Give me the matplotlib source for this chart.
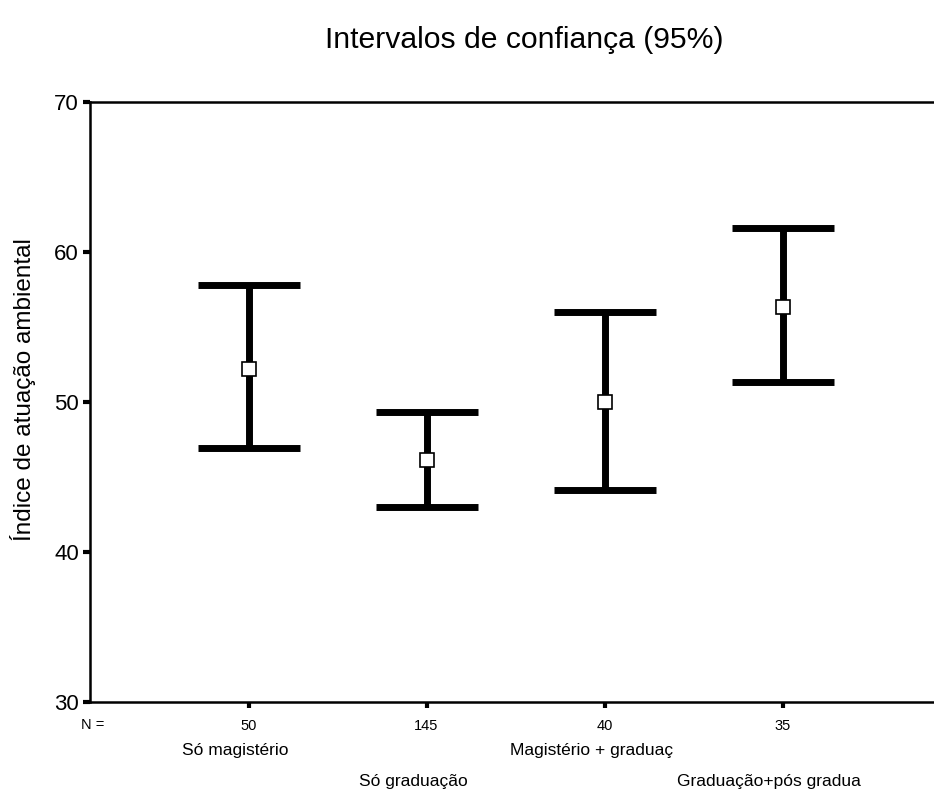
import numpy as np
import matplotlib
matplotlib.use("Agg")
import matplotlib.pyplot as plt
from matplotlib.transforms import blended_transform_factory

plt.rcParams['font.family'] = ['Liberation Sans', 'DejaVu Sans']

groups = ['Só magistério', 'Só graduação', 'Magistério + graduaç', 'Graduação+pós gradua']
n_vals = [50, 145, 40, 35]
means = np.array([52.2, 46.1, 50.0, 56.3])
lower = np.array([46.9, 43.0, 44.1, 51.3])
upper = np.array([57.8, 49.3, 56.0, 61.6])

x = np.arange(1, len(groups) + 1)

fig = plt.figure(figsize=(9.34, 7.93), dpi=100)
ax = fig.add_axes([0.0964, 0.1148, 0.9036, 0.7566])

# intervals
ax.errorbar(x, means, yerr=[means - lower, upper - means], fmt='none',
            ecolor='black', elinewidth=5, capsize=37, capthick=5)
# mean markers
ax.plot(x, means, 's', ms=9.5, mfc='white', mec='black', mew=1.2, zorder=5)

ax.set_xlim(0.11, 4.85)
ax.set_ylim(30, 70)
ax.set_yticks([30, 40, 50, 60, 70])
ax.tick_params(axis='y', labelsize=16, length=5, width=3, pad=3)
ax.set_xticks(x)
ax.set_xticklabels([str(v) for v in n_vals])
ax.tick_params(axis='x', labelsize=10.5, length=4, width=3, pad=8)

for s in ['left', 'bottom', 'top']:
    ax.spines[s].set_linewidth(1.8)
ax.spines['right'].set_visible(False)

ax.set_ylabel('Índice de atuação ambiental', fontsize=17.5)
ax.yaxis.set_label_coords(-0.064, 0.52)

fig.text(0.099, 0.0857, 'N =', fontsize=10.5, ha='center', va='center')

# category names in two staggered rows
tr = blended_transform_factory(ax.transData, fig.transFigure)
rows = [0.0542, 0.0139]
for i, name in enumerate(groups):
    ax.text(x[i] - 0.075, rows[i % 2], name, transform=tr, fontsize=12.5,
            ha='center', va='center')

fig.text(0.561, 0.95, 'Intervalos de confiança (95%)', fontsize=21.7,
         ha='center', va='center')

fig.savefig('out.png', dpi=100)
